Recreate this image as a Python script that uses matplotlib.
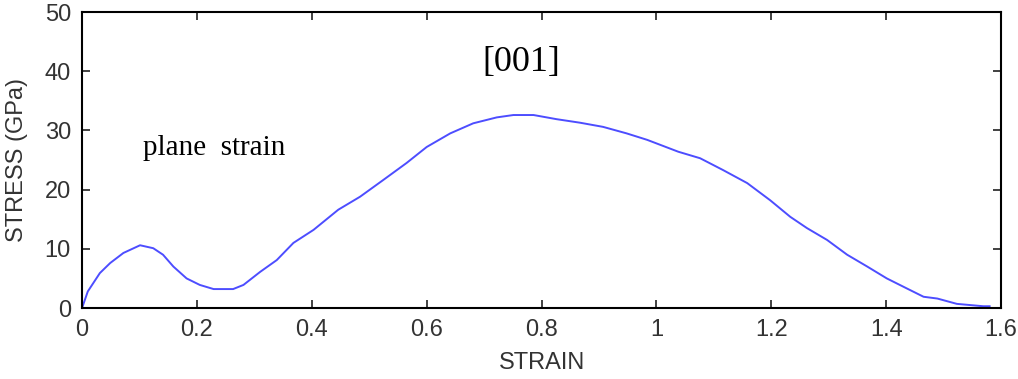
import matplotlib
matplotlib.use('Agg')
import matplotlib.pyplot as plt
from matplotlib.ticker import FormatStrFormatter

# 读取的曲线数据 (strain, stress in GPa)
strain = [0.0, 0.01, 0.031, 0.049, 0.072, 0.101, 0.124, 0.141, 0.159, 0.182, 0.205,
          0.229, 0.263, 0.281, 0.310, 0.339, 0.368, 0.403, 0.446, 0.484, 0.524,
          0.565, 0.600, 0.641, 0.681, 0.722, 0.751, 0.786, 0.826, 0.867, 0.907,
          0.948, 0.984, 1.038, 1.076, 1.116, 1.158, 1.198, 1.233, 1.262, 1.297,
          1.332, 1.367, 1.401, 1.436, 1.465, 1.489, 1.523, 1.569, 1.58]
stress = [0.0, 2.8, 5.9, 7.6, 9.3, 10.6, 10.1, 9.0, 7.0, 5.0, 3.9,
          3.2, 3.2, 3.9, 6.1, 8.1, 11.0, 13.2, 16.6, 18.8, 21.6,
          24.5, 27.2, 29.5, 31.2, 32.2, 32.6, 32.6, 31.9, 31.3, 30.6,
          29.5, 28.4, 26.4, 25.3, 23.3, 21.1, 18.2, 15.4, 13.5, 11.5,
          9.0, 7.0, 5.0, 3.3, 1.9, 1.6, 0.7, 0.3, 0.3]

x_ticks = [0, 0.2, 0.4, 0.6, 0.8, 1.0, 1.2, 1.4, 1.6]
y_ticks = [0, 10, 20, 30, 40, 50]

fig = plt.figure(figsize=(10.18, 3.79), dpi=100)
ax = fig.add_axes([0.0806, 0.1873, 0.9028, 0.781])

ax.plot(strain, stress, color='#4d4dff', linewidth=1.4)

ax.set_xlim(0, 1.6)
ax.set_ylim(0, 50)
ax.set_xticks(x_ticks)
ax.set_yticks(y_ticks)
ax.xaxis.set_major_formatter(FormatStrFormatter('%g'))
ax.yaxis.set_major_formatter(FormatStrFormatter('%g'))
ax.tick_params(direction='in', top=True, right=True, length=6, width=1.3,
               labelsize=17, labelcolor='#333333', color='#333333', pad=8)
for lbl in ax.get_xticklabels() + ax.get_yticklabels():
    lbl.set_family('Liberation Sans')
for sp in ax.spines.values():
    sp.set_linewidth(1.5)

ax.set_xlabel('STRAIN', fontsize=17, family='Liberation Sans', color='#333333', labelpad=8)
ax.set_ylabel('STRESS (GPa)', fontsize=17, family='Liberation Sans', color='#333333', labelpad=12)

ax.text(0.764, 41.4, '[001]', fontsize=26, family='Liberation Serif', ha='center', va='center')
ax.text(0.230, 27.0, 'plane  strain', fontsize=21, family='Liberation Serif', ha='center', va='center')

fig.savefig('out.png', dpi=100)
plt.close(fig)
